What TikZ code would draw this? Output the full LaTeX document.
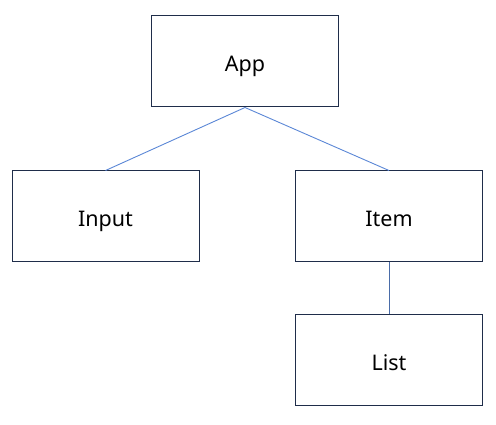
\documentclass[tikz,border=0pt]{standalone}
\usepackage{fontspec}
\setmainfont{Noto Sans}
\usetikzlibrary{positioning}
\definecolor{boxline}{HTML}{1F2D4A}
\definecolor{linkblue}{HTML}{5B87D6}
\definecolor{linkdark}{HTML}{4A6CA8}

\begin{document}
\begin{tikzpicture}[
    x=1pt,y=-1pt,
    every node/.style={font=\fontsize{21.5}{26}\selectfont},
    compbox/.style={
        draw=boxline,
        line width=1pt,
        fill=white,
        minimum width=187pt,
        minimum height=91pt,
        inner sep=0pt,
        text height=21pt,
        text depth=0pt,
    },
    connector/.style={-,line width=0.9pt,color=#1},
]
\useasboundingbox (0,0) rectangle (496,425);

% === Components ===
\node[compbox] (app) at (245,61.5) {App};
\node[compbox] (input) at (105.5,216.5) {Input};
\node[compbox] (item) at (389,216.5) {Item};
\node[compbox] (list) at (389,359.5) {List};

% === Connectors ===
\draw[connector=linkblue] (app.south) -- (input.north);
\draw[connector=linkblue] (app.south) -- (item.north);
\draw[connector=linkdark] (item.south) -- (list.north);

\end{tikzpicture}
\end{document}
